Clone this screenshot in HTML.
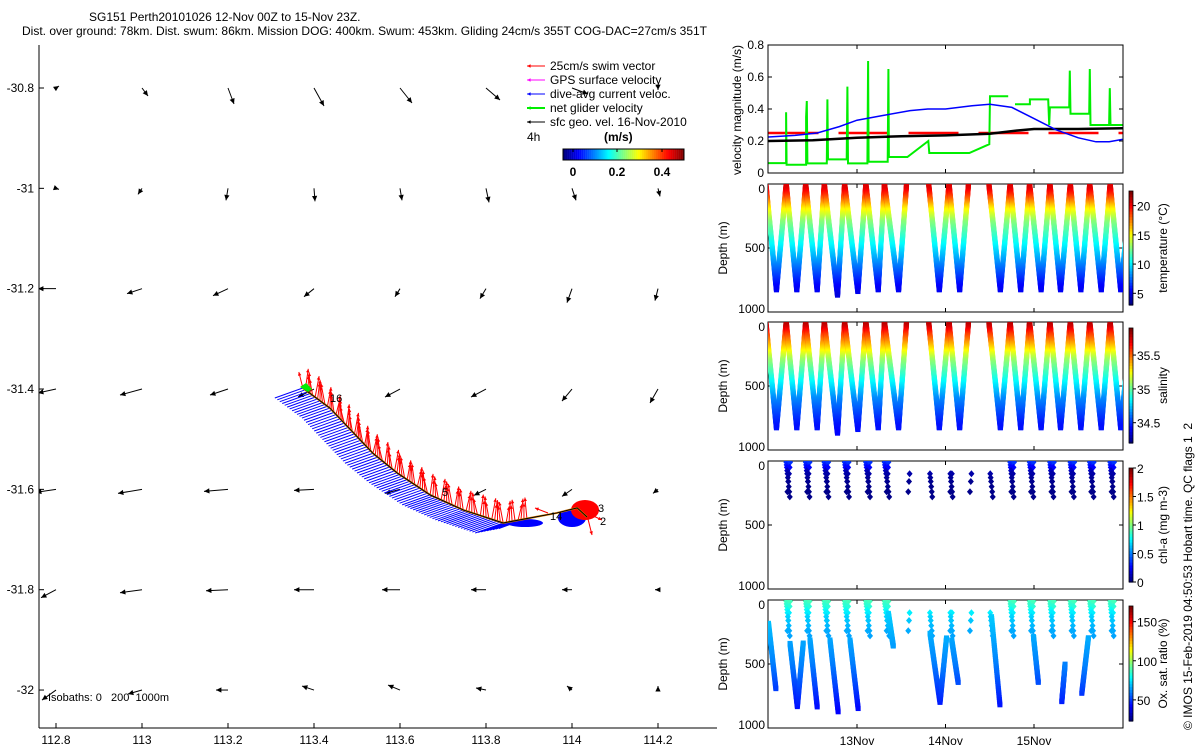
<!DOCTYPE html>
<html><head><meta charset="utf-8"><style>
html,body{margin:0;padding:0;background:#fff;}
svg{display:block;font-family:"Liberation Sans",sans-serif;}
</style></head><body>
<svg id="fig" width="1200" height="750" viewBox="0 0 1200 750" xmlns="http://www.w3.org/2000/svg">
<defs>
<clipPath id="mapClip"><rect x="39" y="45" width="678" height="683"/></clipPath>
<clipPath id="velClip"><rect x="768" y="45" width="355" height="128"/></clipPath>
<clipPath id="c1"><rect x="768" y="184" width="355" height="128"/></clipPath>
<clipPath id="c2"><rect x="768" y="322" width="355" height="128"/></clipPath>
<clipPath id="c3"><rect x="768" y="461" width="355" height="128"/></clipPath>
<clipPath id="c4"><rect x="768" y="600" width="355" height="128"/></clipPath>
</defs>
<text x="89" y="21" font-size="12">SG151 Perth20101026 12-Nov 00Z to 15-Nov 23Z.</text>
<text x="22" y="35" font-size="12">Dist. over ground: 78km. Dist. swum: 86km. Mission DOG: 400km. Swum: 453km. Gliding 24cm/s 355T COG-DAC=27cm/s 351T</text>
<g id="map"></g>
<g id="right"></g>
<text transform="translate(1192,730) rotate(-90)" font-size="12" xml:space="preserve">© IMOS 15-Feb-2019 04:50:53 Hobart time. QC flags 1  2</text>
</svg>
<script>
// ---------- DATA ----------
const mapLonTicks=[112.8,113,113.2,113.4,113.6,113.8,114,114.2];
const mapLatTicks=[-30.8,-31,-31.2,-31.4,-31.6,-31.8,-32];
const geoLons=[112.8,113,113.2,113.4,113.6,113.8,114,114.2];
const geoLats=[-30.8,-31,-31.2,-31.4,-31.6,-31.8,-32];
// geostrophic vel (cm/s, east / north)
const geoU=[[3,6,6,10,12,14,16,0],[3,-4,-2,1,2,3,4,2],[-18,-15,-15,-10,-5,-6,-5,-3],[-18,-22,-18,-16,-15,-15,-10,-8],[-20,-24,-24,-20,-15,-12,-10,-5],[-15,-22,-22,-20,-18,-15,-10,-3],[-14,-14,-12,-12,-12,-10,-5,0]];
const geoV=[[2,-8,-16,-18,-15,-12,-6,-2],[-1,-6,-12,-13,-12,-14,-12,-8],[0,-5,-7,-8,-8,-10,-14,-12],[-4,-6,-6,-8,-8,-8,-12,-14],[-3,-4,-2,-1,-4,-6,-7,-4],[-8,-3,-1,0,0,0,0,0],[-10,-4,0,4,5,2,4,4]];
const trackLon=[113.374,113.437,113.537,113.593,113.67,113.747,113.84,113.902,113.965,114.012,114.035];
const trackLat=[-31.398,-31.438,-31.528,-31.567,-31.611,-31.641,-31.667,-31.657,-31.647,-31.637,-31.655];

const velTicks=[0,0.2,0.4,0.6,0.8];
const dateTicks=[1,2,3];
const dateLabels=['13Nov','14Nov','15Nov'];
const blueT=[0,0.3,0.55,0.8,1.0,1.3,1.6,1.8,2.0,2.3,2.5,2.75,3.0,3.25,3.5,3.7,3.85,4.0];
const blueV=[0.225,0.235,0.25,0.29,0.33,0.36,0.39,0.40,0.40,0.42,0.43,0.41,0.34,0.27,0.22,0.195,0.195,0.21];
const blackT=[0,0.5,1.0,1.5,2.0,2.5,2.8,3.0,3.5,4.0];
const blackV=[0.2,0.205,0.22,0.23,0.235,0.245,0.265,0.275,0.275,0.28];
const greenT=[0,0.199,0.199,0.205,0.425,0.425,0.433,0.44,0.659,0.666,0.672,0.884,0.892,0.898,1.118,1.125,1.131,1.347,1.355,1.361,1.569,1.806,1.817,2.269,2.495,2.503,2.709,null,2.785,2.954,2.954,3.161,3.172,3.180,3.398,3.405,3.412,3.624,3.631,3.638,3.849,3.857,3.864,4.0];
const greenV=[0.062,0.062,0.38,0.052,0.052,0.35,0.45,0.06,0.06,0.46,0.085,0.085,0.54,0.06,0.06,0.70,0.07,0.07,0.65,0.10,0.10,0.20,0.125,0.125,0.18,0.48,0.48,null,0.43,0.43,0.46,0.46,0.30,0.41,0.41,0.64,0.37,0.37,0.65,0.30,0.30,0.53,0.30,0.30];
// dives: start, bottom, end (days since 12-Nov 00Z), max depth (m)
const diveStart=[-0.03,0.20,0.42,0.63,0.86,1.10,1.31,1.81,2.04,2.49,2.73,2.95,3.18,3.41,3.63,3.86];
const diveBottom=[0.09,0.32,0.55,0.78,1.01,1.24,1.47,1.93,2.16,2.62,2.85,3.08,3.30,3.53,3.76,3.98];
const diveEnd=[0.20,0.42,0.63,0.86,1.10,1.31,1.56,2.04,2.26,2.73,2.95,3.18,3.41,3.63,3.86,4.1];
const diveMax=[830,830,830,870,840,830,830,830,830,830,830,830,830,830,830,830];
const tempDepth=[0,50,100,200,300,400,500,600,700,800,900];
const tempVal=[21,20.5,19,15.5,13,11.5,10,8.5,7,5.5,4.5];
const salVal=[35.85,35.75,35.6,35.35,35.1,34.95,34.8,34.65,34.55,34.45,34.4];
const chlDepths=[10,30,50,75,100,130,160,200,240,280];
const chlVals=[0.35,0.3,0.25,0.12,0.08,0.05,0.03,0.02,0.02,0.02];
const oxUpper=[88,86,84,80,76,72,70,68,66,65];
// deep oxygen segments: t0,d0,t1,d1
const oxSegT0=[0.0,0.243,0.326,0.469,0.695,0.921,1.354,1.825,1.938,2.07,2.52,2.994,3.314,3.54];
const oxSegD0=[182,339,833,312,312,312,104,260,800,312,130,286,794,729];
const oxSegT1=[0.085,0.326,0.394,0.552,0.789,1.015,1.411,1.938,2.013,2.145,2.617,3.05,3.352,3.616];
const oxSegD1=[703,833,326,846,885,859,365,800,286,651,833,651,495,286];

// ---------- HELPERS ----------
const NS='http://www.w3.org/2000/svg';
function mk(tag,attrs,parent,txt){const e=document.createElementNS(NS,tag);for(const k in attrs)e.setAttribute(k,attrs[k]);if(txt!==undefined)e.textContent=txt;parent.appendChild(e);return e;}
const cl=v=>Math.max(0,Math.min(1,v));
function jet(v){v=cl(v);const r=cl(1.5-Math.abs(4*v-3)),g=cl(1.5-Math.abs(4*v-2)),b=cl(1.5-Math.abs(4*v-1));return `rgb(${Math.round(r*255)},${Math.round(g*255)},${Math.round(b*255)})`;}
function interp(xs,ys,x){if(x<=xs[0])return ys[0];for(let i=1;i<xs.length;i++){if(x<=xs[i]){const f=(x-xs[i-1])/(xs[i]-xs[i-1]);return ys[i-1]+f*(ys[i]-ys[i-1]);}}return ys[ys.length-1];}
function arrow(g,x1,y1,x2,y2,col,w,hs){
  const l=mk('line',{x1,y1,x2,y2,stroke:col,'stroke-width':w},g);
  const a=Math.atan2(y2-y1,x2-x1);
  const p=[[x2,y2],[x2-hs*Math.cos(a-0.45),y2-hs*Math.sin(a-0.45)],[x2-hs*Math.cos(a+0.45),y2-hs*Math.sin(a+0.45)]];
  mk('polygon',{points:p.map(q=>q.join(',')).join(' '),fill:col},g);
  return l;
}

// ---------- MAP ----------
const map=document.getElementById('map');
const LX=lon=>56+(lon-112.8)*430;
const LY=lat=>88+(-30.8-lat)*501.7;
mk('line',{x1:39,y1:45,x2:39,y2:728,stroke:'#000'},map);
mk('line',{x1:39,y1:728,x2:717,y2:728,stroke:'#000'},map);
mapLonTicks.forEach(v=>{const x=LX(v);mk('line',{x1:x,y1:728,x2:x,y2:723,stroke:'#000'},map);
  const t=mk('text',{x:x,y:744,'font-size':12,'text-anchor':'middle'},map,String(v));
  });
mapLatTicks.forEach(v=>{const y=LY(v);mk('line',{x1:39,y1:y,x2:44,y2:y,stroke:'#000'},map);
  const t=mk('text',{x:34,y:y+4,'font-size':12,'text-anchor':'end'},map,String(v));
  });
const mg=mk('g',{'clip-path':'url(#mapClip)'},map);
geoLats.forEach((la,i)=>geoLons.forEach((lo,j)=>{
  const x=LX(lo),y=LY(la);const x2=x+geoU[i][j],y2=y-geoV[i][j];
  const a=arrow(mg,x,y,x2,y2,'#000',1,6);
  
}));
// track vectors
const tp=trackLon.map((lo,i)=>[LX(lo),LY(trackLat[i])]);
const samples=[];
for(let i=1;i<tp.length;i++){const dx=tp[i][0]-tp[i-1][0],dy=tp[i][1]-tp[i-1][1];const L=Math.hypot(dx,dy);const n=Math.max(1,Math.round(L/3));for(let k=0;k<n;k++)samples.push([tp[i-1][0]+dx*k/n,tp[i-1][1]+dy*k/n,i]);}
const blueG=mk('g',{},mg);
samples.forEach(s=>{if(s[2]<=7)mk('line',{x1:s[0],y1:s[1],x2:s[0]-28,y2:s[1]+10,stroke:'#0000ff','stroke-width':1},blueG);});
mk('ellipse',{cx:572,cy:518,rx:14,ry:9,fill:'#0000ff'},blueG);
mk('ellipse',{cx:525,cy:523,rx:18,ry:4,fill:'#0000ff'},blueG);
const redG=mk('g',{},mg);
samples.forEach((s,k)=>{if(s[2]<=7){const dx=((k*7)%9)-4;arrow(redG,s[0],s[1],s[0]+dx,s[1]-16-((k*5)%10),'#ff0000',1,4);}});
mk('ellipse',{cx:585,cy:510,rx:14,ry:10,fill:'#ff0000'},redG);
arrow(redG,587,515,592,535,'#ff0000',1,4);arrow(redG,548,513,535,508,'#ff0000',1,4);arrow(redG,585,512,602,520,'#ff0000',1,4);
mk('polyline',{points:tp.map(p=>p.join(',')).join(' '),fill:'none',stroke:'#e08000','stroke-width':2},mg);
mk('polyline',{points:tp.map(p=>p.join(',')).join(' '),fill:'none',stroke:'#000','stroke-width':1},mg);
mk('polygon',{points:'300,387 306,383 312,389 308,392',fill:'#00ee00'},mg);
mk('text',{x:330,y:402,'font-size':11},mg,'16');
mk('text',{x:442,y:496,'font-size':11},mg,'5');
mk('text',{x:550,y:520,'font-size':11},mg,'14');
mk('text',{x:598,y:512,'font-size':11},mg,'3');
mk('text',{x:600,y:525,'font-size':11},mg,'2');
const iso=mk('text',{x:48,y:701,'font-size':11},map,'Isobaths: 0   200  1000m');
iso.setAttributeNS('http://www.w3.org/XML/1998/namespace','xml:space','preserve');

// legend
const leg=mk('g',{},map);
const legItems=[['25cm/s swim vector','#ff0000'],['GPS surface velocity','#ff00ff'],['dive-avg current veloc.','#0000ff'],['net glider velocity','#00ee00'],['sfc geo. vel. 16-Nov-2010','#000']];
legItems.forEach((it,i)=>{const y=66+i*14;arrow(leg,545,y,527,y,it[1],i==3?2:1,4);
  const t=mk('text',{x:550,y:y+4,'font-size':12},leg,it[0]);});
mk('text',{x:527,y:141,'font-size':12},map,'4h');
mk('text',{x:604,y:141,'font-size':12,'font-weight':'bold'},map,'(m/s)');
for(let i=0;i<60;i++)mk('rect',{x:563+i*2.02,y:149,width:2.2,height:11,fill:jet(i/59)},map);
mk('rect',{x:563,y:149,width:121,height:11,fill:'none',stroke:'#000'},map);
[[573,'0'],[617,'0.2'],[662,'0.4']].forEach(a=>{mk('line',{x1:a[0],y1:149,x2:a[0],y2:152,stroke:'#000'},map);mk('text',{x:a[0],y:176,'font-size':12,'font-weight':'bold','text-anchor':'middle'},map,a[1]);});

// ---------- RIGHT PANELS ----------
const R=document.getElementById('right');
const X=t=>768.5+t*88.5;
const VY=v=>173-v*160;
function box(y0,name){const b=mk('rect',{x:768,y:y0,width:355,height:128,fill:'none',stroke:'#000'},R);
  dateTicks.forEach(d=>{const x=X(d);mk('line',{x1:x,y1:y0,x2:x,y2:y0+4,stroke:'#000'},R);mk('line',{x1:x,y1:y0+128,x2:x,y2:y0+124,stroke:'#000'},R);});}
box(45,'velocity-panel');
velTicks.forEach(v=>{const y=VY(v);mk('line',{x1:768,y1:y,x2:772,y2:y,stroke:'#000'},R);mk('line',{x1:1123,y1:y,x2:1119,y2:y,stroke:'#000'},R);
  const t=mk('text',{x:764,y:y+4,'font-size':12,'text-anchor':'end'},R,String(v));});
mk('text',{transform:'translate(741,110) rotate(-90)','font-size':12,'text-anchor':'middle'},R,'velocity magnitude (m/s)');
const vg=mk('g',{'clip-path':'url(#velClip)'},R);
const redDash=mk('line',{x1:X(0),y1:VY(0.25),x2:X(4),y2:VY(0.25),stroke:'#ff0000','stroke-width':2.5,'stroke-dasharray':'50,20'},vg);

function series(ts,vs,col,w,name){let d='',pen=false;ts.forEach((t,i)=>{if(t===null){pen=false;return;}d+=(pen?'L':'M')+X(t).toFixed(1)+','+VY(vs[i]).toFixed(1);pen=true;});
  const p=mk('path',{d,fill:'none',stroke:col,'stroke-width':w},vg);}
series(greenT,greenV,'#00ee00',2,'net-glider-velocity-line');
series(blackT,blackV,'#000',2.5,'geostrophic-velocity-line');
series(blueT,blueV,'#0000ff',1.5,'dive-avg-current-line');

const panels=[
 {y:184,clip:'c1',name:'temperature',label:'temperature (°C)',min:3,max:22.5,ticks:[5,10,15,20],cb:[191,305]},
 {y:322,clip:'c2',name:'salinity',label:'salinity',min:34.2,max:35.9,ticks:[34.5,35,35.5],cb:[328,443]},
 {y:461,clip:'c3',name:'chl-a',label:'chl-a (mg m-3)',min:0,max:2,ticks:[0,0.5,1,1.5,2],cb:[468,582]},
 {y:600,clip:'c4',name:'oxygen',label:'Ox. sat. ratio (%)',min:23,max:170,ticks:[50,100,150],cb:[606,721]}];
panels.forEach((P,pi)=>{
  box(P.y,P.name+'-panel');
  const DY=d=>P.y+d/1000*128;
  [0,500,1000].forEach(d=>{const y=DY(d);mk('line',{x1:768,y1:y,x2:772,y2:y,stroke:'#000'},R);mk('line',{x1:1123,y1:y,x2:1119,y2:y,stroke:'#000'},R);
    const t=mk('text',{x:765,y:y+(d==0?9:(d==1000?1:4)),'font-size':12,'text-anchor':'end'},R,String(d));});
  mk('text',{transform:`translate(727,${P.y+64}) rotate(-90)`,'font-size':12,'text-anchor':'middle'},R,'Depth (m)');
  const [c0,c1]=P.cb;const n=40;
  for(let i=0;i<n;i++)mk('rect',{x:1129,y:c1-(i+1)*(c1-c0)/n,width:4,height:(c1-c0)/n+0.6,fill:jet(i/(n-1))},R);
  const cbr=mk('rect',{x:1129,y:c0,width:4,height:c1-c0,fill:'none',stroke:'#000','stroke-width':0.8},R);
  
  P.ticks.forEach(v=>{const y=c1-(v-P.min)/(P.max-P.min)*(c1-c0);mk('line',{x1:1133,y1:y,x2:1136,y2:y,stroke:'#000'},R);
    const t=mk('text',{x:1137,y:y+5,'font-size':12},R,String(v));});
  mk('text',{transform:`translate(1167,${(c0+c1)/2}) rotate(-90)`,'font-size':12,'text-anchor':'middle'},R,P.label);
  const g=mk('g',{'clip-path':`url(#${P.clip})`},R);
  
  const col=v=>jet((v-P.min)/(P.max-P.min));
  if(pi<2){
    const vals=pi==0?tempVal:salVal;
    diveStart.forEach((s,k)=>{const b=diveBottom[k],e=diveEnd[k],m=diveMax[k];
      for(let d=0;d<=m;d+=7){const c=col(interp(tempDepth,vals,d));
        const t1=s+(b-s)*d/m,t2=e-(e-b)*d/m;
        mk('rect',{x:X(t1)-2.5,y:DY(d)-2.5,width:5,height:5,fill:c},g);
        mk('rect',{x:X(t2)-2.5,y:DY(d)-2.5,width:5,height:5,fill:c},g);}});
  } else {
    const dm=(x,y,c)=>mk('polygon',{points:`${x},${y-3.5} ${x+3},${y} ${x},${y+3.5} ${x-3},${y}`,fill:c},g);
    diveStart.forEach((s,k)=>{if(k==0)return;const b=diveBottom[k],m=diveMax[k],pe=diveEnd[k-1];
      chlDepths.forEach((d,j)=>{if(k>=7&&k<=9&&d<100)return;
        const v=pi==2?chlVals[j]:oxUpper[j];
        dm(X(s+(b-s)*d/m),DY(d),col(v));
        if(j%2==0)dm(X(pe-(pe-diveBottom[k-1])*d/m)+4,DY(d),col(v));});});
    if(pi==3){
      oxSegT0.forEach((t0,i)=>{const t1=oxSegT1[i],d0=oxSegD0[i],d1=oxSegD1[i];
        for(let f=0;f<=1;f+=0.02){const d=d0+(d1-d0)*f;const v=interp([0,300,500,700,900],[75,66,60,50,40],d);
          mk('rect',{x:X(t0+(t1-t0)*f)-2.5,y:DY(d)-2.5,width:5,height:5,fill:col(v)},g);}});
    }
  }
});
dateTicks.forEach((d,i)=>{const t=mk('text',{x:X(d),y:745,'font-size':12,'text-anchor':'middle'},R,dateLabels[i]);});
</script>
</body></html>
